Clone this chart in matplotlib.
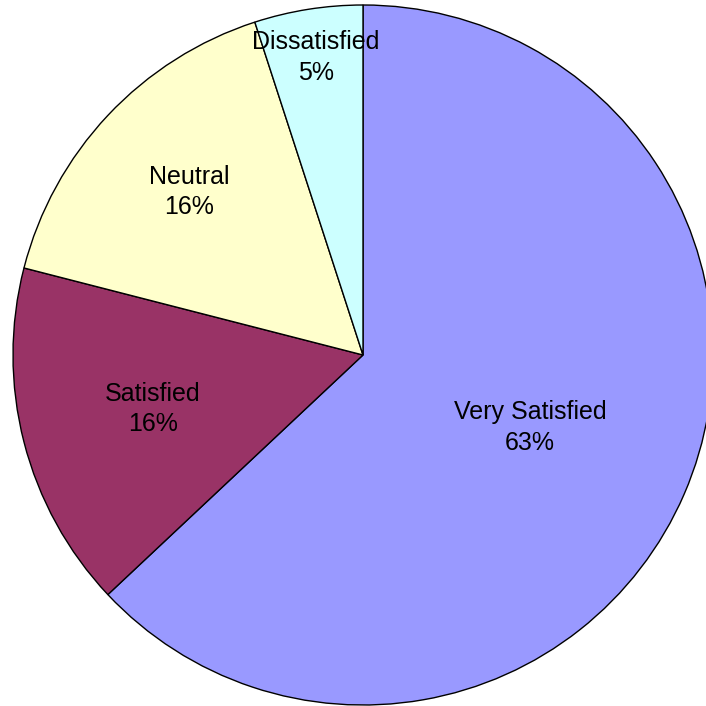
import matplotlib
matplotlib.use("Agg")
import matplotlib.pyplot as plt
import numpy as np

categories = ["Very Satisfied", "Satisfied", "Neutral", "Dissatisfied"]
values = [63, 16, 16, 5]
colors = ["#9999FF", "#993366", "#FFFFCC", "#CCFFFF"]
label_radius = [0.52, 0.62, 0.68, 0.86]

plt.rcParams['font.family'] = ['Liberation Sans', 'DejaVu Sans']

fig = plt.figure(figsize=(7.06, 7.06), dpi=100)
ax = fig.add_axes([0, 0, 1, 1])
wedges, _ = ax.pie(values, colors=colors, startangle=90, counterclock=False,
                   wedgeprops=dict(edgecolor="black", linewidth=1.0))
total = sum(values)
for w, cat, v, r in zip(wedges, categories, values, label_radius):
    mid = np.deg2rad((w.theta1 + w.theta2) / 2)
    ax.text(r * np.cos(mid), r * np.sin(mid), f"{cat}\n{round(100*v/total)}%",
            ha="center", va="center", fontsize=18, linespacing=1.35, color="black")

ax.set_xlim(-363/350, (706-363)/350)
ax.set_ylim(-351/350, 355/350)
ax.set_aspect("equal")
ax.axis("off")
fig.savefig("out.png", dpi=100, facecolor="white")
